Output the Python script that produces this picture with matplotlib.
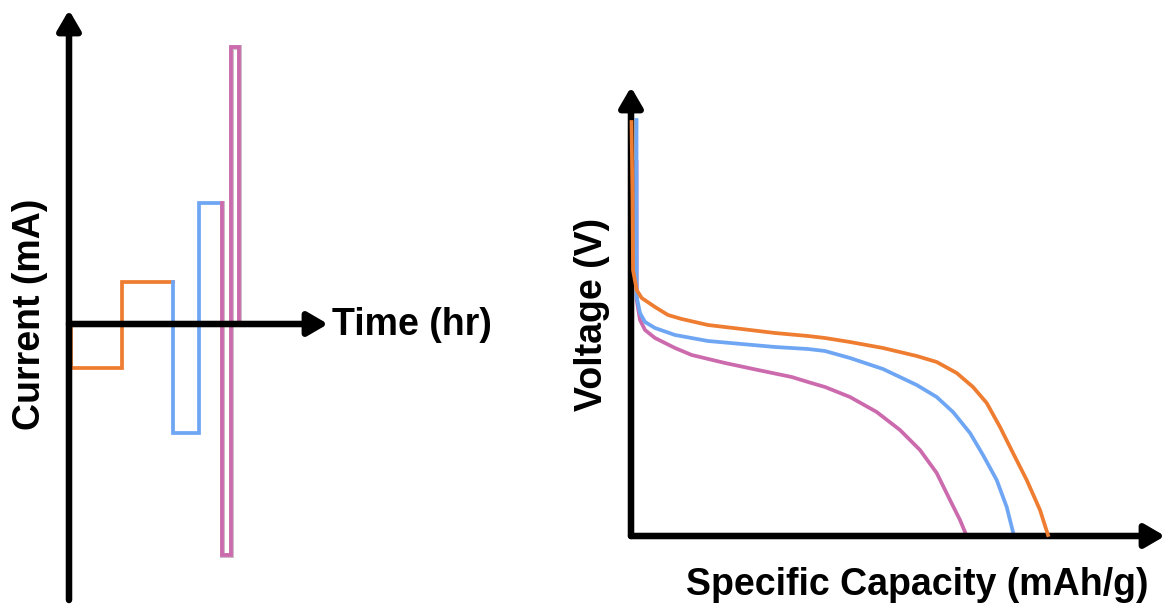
import matplotlib.pyplot as plt
import matplotlib.patheffects as pe

plt.rcParams['font.family'] = ['Liberation Sans', 'DejaVu Sans']

ORANGE = '#ee7d31'
BLUE = '#6fa6f4'
PINK = '#cc6aae'

# current steps vs time (hr, mA): low, medium and high rate
orange_t = [0.04, 0.04, 1.04, 1.04, 2.04]
orange_i = [0.0, -1.0, -1.0, 0.95, 0.95]
blue_t = [2.04, 2.04, 2.55, 2.55, 3.0]
blue_i = [0.95, -2.48, -2.48, 2.75, 2.75]
pink_t = [3.0, 3.0, 3.18, 3.18, 3.33, 3.33]
pink_i = [2.75, -5.25, -5.25, 6.3, 6.3, 0.07]

# discharge curves (mAh/g, V)
orange_cap = [0.25, 0.75, 1.0, 2.85, 5.35, 12.0, 18.5, 25.35, 38.5, 55.35, 72.0,
              88.5, 97.0, 109.5, 126.0, 142.85, 152.85, 162.85, 171.0, 177.85,
              184.5, 191.0, 197.85, 204.5, 208.5]
orange_v = [4.14, 3.36, 2.66, 2.46, 2.38, 2.29, 2.21, 2.17, 2.11, 2.07, 2.03,
            2.0, 1.98, 1.94, 1.88, 1.80, 1.74, 1.63, 1.49, 1.33,
            1.09, 0.83, 0.56, 0.26, 0.01]
blue_cap = [2.75, 2.75, 2.85, 4.5, 7.0, 12.0, 22.0, 38.5, 55.35, 72.0, 88.5,
            97.0, 109.5, 126.0, 142.85, 152.85, 161.0, 169.5, 176.0, 182.85,
            187.85, 191.0]
blue_v = [4.16, 3.36, 2.39, 2.23, 2.14, 2.08, 2.01, 1.95, 1.92, 1.89, 1.87,
          1.85, 1.78, 1.67, 1.51, 1.39, 1.24, 1.03, 0.81, 0.56,
          0.29, 0.04]
pink_cap = [2.75, 2.85, 4.5, 7.0, 12.0, 22.0, 30.35, 47.0, 63.5, 80.35, 88.5,
            97.0, 109.5, 122.85, 134.5, 144.5, 152.85, 159.5, 164.5, 167.0]
pink_v = [3.74, 2.36, 2.16, 2.06, 1.98, 1.88, 1.81, 1.73, 1.66, 1.59, 1.54,
          1.49, 1.39, 1.24, 1.06, 0.86, 0.63, 0.36, 0.16, 0.04]

W, H = 1166, 605
fig = plt.figure(figsize=(W / 100, H / 100), dpi=100)

AX_LW = 4.7
LW = 2.7
HEAD = '-|>,head_length=0.6,head_width=0.35'


def arrow_axis(ax, start, end, coords):
    ax.annotate('', xy=end, xytext=start, xycoords=coords,
                arrowprops=dict(arrowstyle=HEAD, mutation_scale=20, lw=AX_LW,
                                color='black', shrinkA=0, shrinkB=0),
                annotation_clip=False)


# left: current protocol
ax1 = fig.add_axes([69 / W, 5 / H, 259 / W, 590 / H])
ax1.set_xlim(0, 259 / 51)
ax1.set_ylim(-276 / 44, 314 / 44)
ax1.axis('off')
ax1.plot(orange_t, orange_i, color=ORANGE, lw=LW, solid_joinstyle='miter')
ax1.plot(blue_t, blue_i, color=BLUE, lw=LW, solid_joinstyle='miter')
ax1.plot(pink_t, pink_i, color=PINK, lw=LW, solid_joinstyle='miter',
         path_effects=[pe.Stroke(linewidth=3.6, foreground='#cbbcc6'), pe.Normal()])
arrow_axis(ax1, (0, 0), (0, 1), 'axes fraction')
arrow_axis(ax1, (0, 0), (1, 0), ('axes fraction', 'data'))
ax1.annotate('Time (hr)', xy=(1, 0), xycoords=('axes fraction', 'data'),
             xytext=(3, -1), textcoords='offset points', ha='left', va='center',
             fontsize=27, fontweight='bold', annotation_clip=False)
fig.text(30 / W, 1 - 314 / H, 'Current (mA)', rotation=90, ha='center',
         va='center', fontsize=27, fontweight='bold')

# right: discharge curves
ax2 = fig.add_axes([631 / W, 69 / H, 534 / W, 449 / H])
ax2.set_xlim(0, 267)
ax2.set_ylim(0, 4.49)
ax2.axis('off')
ax2.plot(pink_cap, pink_v, color=PINK, lw=LW, clip_on=False)
ax2.plot(blue_cap, blue_v, color=BLUE, lw=LW, clip_on=False)
arrow_axis(ax2, (0, 0), (0, 1), 'axes fraction')
arrow_axis(ax2, (0, 0), (1, 0), 'axes fraction')
ax2.plot(orange_cap, orange_v, color=ORANGE, lw=LW, clip_on=False, zorder=5)
fig.text(917 / W, 1 - 585 / H, 'Specific Capacity (mAh/g)', ha='center',
         va='center', fontsize=27, fontweight='bold')
fig.text(592 / W, 1 - 314 / H, 'Voltage (V)', rotation=90, ha='center',
         va='center', fontsize=27, fontweight='bold')

fig.savefig('out.png', dpi=100)
